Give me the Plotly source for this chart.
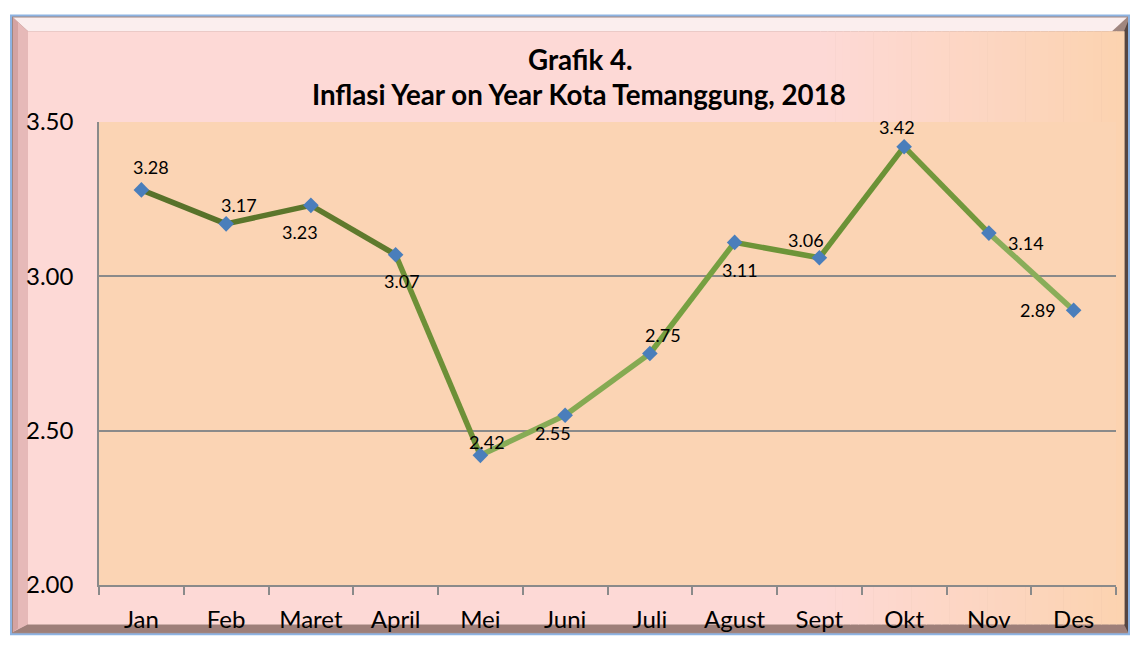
import plotly.graph_objects as go

# ---------------- data ----------------
months = ["Jan", "Feb", "Maret", "April", "Mei", "Juni", "Juli",
          "Agust", "Sept", "Okt", "Nov", "Des"]
inflasi = [3.28, 3.17, 3.23, 3.07, 2.42, 2.55, 2.75, 3.11, 3.06, 3.42, 3.14, 2.89]
y_ticks = [2.00, 2.50, 3.00, 3.50]
y_tick_labels = ["2.00", "2.50", "3.00", "3.50"]
title_line1 = "Grafik 4."
title_line2 = "Inflasi Year on Year Kota Temanggung, 2018"

# ---------------- styling ----------------
FONT = "Lato, 'Open Sans', sans-serif"
seg_colors = ["#58722a", "#5b762b", "#5f7a2d", "#6d9037", "#87ab56", "#85aa52",
              "#76a041", "#6d9438", "#6b9236", "#72983c", "#89ad59"]
# label offsets in pixels (dx right, dy down)
label_offsets = [(10, -23), (13, -19), (-11, 27), (6, 26), (7, -13), (-12, 18),
                 (13, -19), (5, 28), (-13, -18), (-7, -20), (37, 10), (-36, 0)]

FIG_W, FIG_H = 1130, 645
L, R, T, B = 99, 1116, 122, 592
PW, PH = R - L, B - T


def px(X):
    return (X - L) / PW


def py(Y):
    return (B - Y) / PH


def rect(x0, y0, x1, y1, fill, line_color=None, line_width=0):
    return dict(type="rect", xref="paper", yref="paper", layer="below",
                x0=px(x0), x1=px(x1), y0=py(y1), y1=py(y0),
                fillcolor=fill,
                line=dict(color=line_color or fill, width=line_width))


def poly(points, fill):
    path = "M " + " L ".join(f"{px(a)},{py(b)}" for a, b in points) + " Z"
    return dict(type="path", xref="paper", yref="paper", layer="below",
                path=path, fillcolor=fill, line=dict(width=0))


def mix(c1, c2, t):
    return "rgb({},{},{})".format(*[round(a + (b - a) * t) for a, b in zip(c1, c2)])


shapes = []
# outer frame with blue outline
shapes.append(rect(11, 14, 1129, 642, "#a08680", "#8db3e2", 2))
# bevels
shapes.append(poly([(13, 16), (1127, 16), (1112, 30), (28, 30)], "#fbeeee"))
shapes.append(poly([(13, 16), (28, 30), (28, 632), (13, 640)], "#e6b9b8"))
shapes.append(poly([(13, 16), (18, 21), (18, 636), (13, 640)], "#d4a3a2"))
shapes.append(poly([(13, 640), (28, 632), (1124, 632), (1127, 640)], "#9e7f79"))
shapes.append(poly([(1124, 30), (1128, 20), (1128, 640), (1124, 632)], "#554542"))

# inner background gradient (pink -> peach towards the right)
pink = (253, 217, 214)
peach = (252, 211, 176)
x_start, x_end = 28, 1124
n = 40
ramp_start = 820
steps = [x_start] + [ramp_start + (x_end - ramp_start) * i / n for i in range(n + 1)]
for i in range(len(steps) - 1):
    xa, xb = steps[i], steps[i + 1]
    t = 0 if i == 0 else (i - 1) / (n - 1)
    shapes.append(rect(xa, 30, xb + 0.6, 632, mix(pink, peach, t)))

# plot area fill
shapes.append(dict(type="rect", xref="paper", yref="paper", layer="below",
                   x0=0, x1=1, y0=0, y1=1, fillcolor="#fbd4b4",
                   line=dict(width=0)))

fig = go.Figure()

# line segments with gradient-like colours
for i in range(len(months) - 1):
    fig.add_trace(go.Scatter(
        x=months[i:i + 2], y=inflasi[i:i + 2], mode="lines",
        line=dict(color=seg_colors[i], width=5.5),
        hoverinfo="skip", showlegend=False))

# markers
fig.add_trace(go.Scatter(
    x=months, y=inflasi, mode="markers",
    marker=dict(symbol="diamond", size=12, color="#4a7ebb",
                line=dict(width=0)),
    showlegend=False))

annotations = []
for m, v, (dx, dy) in zip(months, inflasi, label_offsets):
    annotations.append(dict(x=m, y=v, xref="x", yref="y", text=f"{v:.2f}",
                            showarrow=False, xshift=dx, yshift=-dy,
                            xanchor="center", yanchor="middle",
                            font=dict(family=FONT, size=18, color="#000000")))

annotations.append(dict(x=px(580), y=py(59), xref="paper", yref="paper",
                        text=f"<b>{title_line1}</b>", showarrow=False,
                        xanchor="center", yanchor="middle",
                        font=dict(family=FONT, size=27.7, color="#000000")))
annotations.append(dict(x=px(579), y=py(94), xref="paper", yref="paper",
                        text=f"<b>{title_line2}</b>", showarrow=False,
                        xanchor="center", yanchor="middle",
                        font=dict(family=FONT, size=27.7, color="#000000")))

fig.update_layout(
    width=FIG_W, height=FIG_H,
    margin=dict(l=L, r=FIG_W - R, t=T, b=FIG_H - B, pad=0),
    paper_bgcolor="#ffffff",
    plot_bgcolor="rgba(0,0,0,0)",
    shapes=shapes,
    annotations=annotations,
    showlegend=False,
    font=dict(family=FONT, color="#000000"),
    xaxis=dict(
        type="category", categoryorder="array", categoryarray=months,
        range=[-0.5, len(months) - 0.5],
        showgrid=False, showline=True, linecolor="#8a8a8a", linewidth=1.5,
        ticks="outside", tickson="boundaries", ticklen=8, tickcolor="#8a8a8a",
        tickwidth=1.5, ticklabelstandoff=12,
        tickfont=dict(family=FONT, size=24, color="#000000"),
        zeroline=False, fixedrange=True),
    yaxis=dict(
        range=[2.0, 3.5], tickvals=y_ticks, ticktext=y_tick_labels,
        showgrid=True, gridcolor="#8a8a8a", gridwidth=1.5,
        showline=True, linecolor="#8a8a8a", linewidth=1.5,
        ticks="", ticklabelstandoff=19,
        tickfont=dict(family=FONT, size=24, color="#000000"),
        zeroline=False, fixedrange=True),
)

fig.write_html("out.html", config={"displayModeBar": False},
               post_script="document.body.style.margin='0px';")
